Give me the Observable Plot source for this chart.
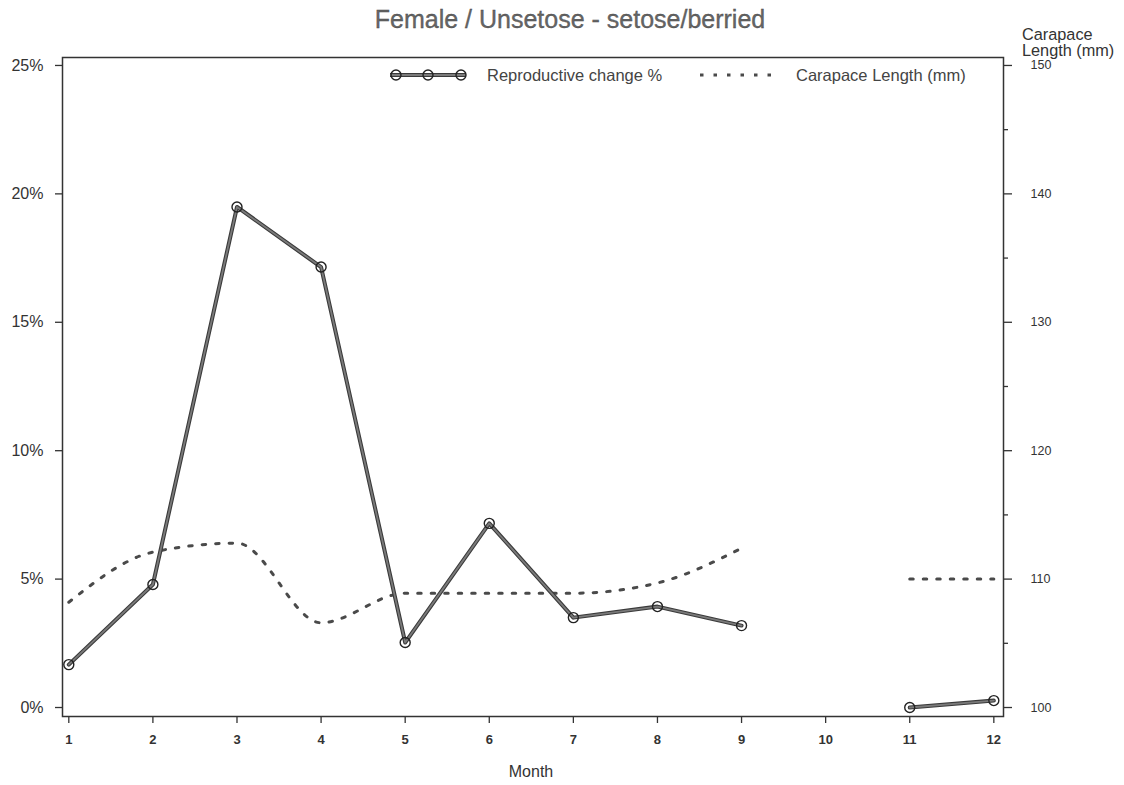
<!DOCTYPE html>
<html>
<head>
<meta charset="utf-8">
<script src="https://cdn.jsdelivr.net/npm/d3@7"></script>
<script src="https://cdn.jsdelivr.net/npm/@observablehq/plot@0.6"></script>
<style>
  body { margin: 0; background: #fff; font-family: "Liberation Sans", Arial, sans-serif; }
  #wrap { position: relative; width: 1124px; height: 785px; }
  #chart { position: absolute; left: 0; top: 0; }
  #title { position: absolute; left: 8px; top: 7px; width: 1124px; text-align: center;
           font-size: 25px; line-height: 25px; color: #666; z-index: 2;
           -webkit-text-stroke: 0.3px #444; }
  #rtitle { position: absolute; left: 1022px; top: 26px; font-size: 16.3px; line-height: 16px;
            color: #333; z-index: 2; }
</style>
</head>
<body>
<div id="wrap">
  <div id="chart"></div>
  <div id="title">Female / Unsetose - setose/berried</div>
  <div id="rtitle">Carapace<br>Length (mm)</div>
</div>
<script>
// Monthly series (month 10 has no observation)
const months = [1, 2, 3, 4, 5, 6, 7, 8, 9, 10, 11, 12];
const reproductiveChangePct = [1.67, 4.79, 19.49, 17.15, 2.53, 7.17, 3.50, 3.93, 3.19, null, 0.0, 0.27];
const carapaceLengthMm = [108.2, 112.1, 112.8, 106.6, 108.9, 108.9, 108.9, 109.7, 112.4, null, 110.0, 110.0];

// Axis ticks
const pctTicks = [0, 5, 10, 15, 20, 25];
const mmTicks = [100, 110, 120, 130, 140, 150];
const mmMinorTicks = [105, 115, 125, 135, 145];

// Right axis (mm) shares the frame with the left axis (%): 100–150 mm ↔ 0–25 %
const mmToPct = mm => (mm - 100) / 2;

const rows = months.map((m, i) => ({
  month: m,
  pct: reproductiveChangePct[i],
  mm: carapaceLengthMm[i]
}));

const ink = "#333";
const dotted = "3.5,10";

const chart = Plot.plot({
  width: 1124,
  height: 785,
  marginLeft: 62,
  marginRight: 121,
  marginTop: 57,
  marginBottom: 69,
  style: { background: "transparent", fontFamily: "Liberation Sans, Arial, sans-serif", color: ink },
  x: { domain: [0.925, 12.115] },
  y: { domain: [-0.35, 25.31] },
  marks: [
    Plot.frame({ stroke: ink, strokeWidth: 1.5 }),
    Plot.axisY({ anchor: "left", ticks: pctTicks, tickFormat: d => d + "%", tickSize: 7, tickPadding: 12,
                 fontSize: 16, label: null, stroke: ink, strokeWidth: 1.3 }),
    Plot.axisY({ anchor: "right", ticks: mmTicks.map(mmToPct), tickFormat: d => String(100 + 2 * d),
                 tickSize: 8, tickPadding: 19, fontSize: 12.5, label: null, stroke: ink, strokeWidth: 1.3 }),
    Plot.axisY({ anchor: "right", ticks: mmMinorTicks.map(mmToPct), tickFormat: () => "",
                 tickSize: 4, label: null, stroke: ink, strokeWidth: 1.3 }),
    Plot.axisX({ ticks: months, tickFormat: d => String(d), tickSize: 7, tickPadding: 11,
                 fontSize: 13, fontWeight: "bold", label: null, stroke: ink, strokeWidth: 1.3 }),
    // Carapace length: smoothed dotted curve on the right-hand scale
    Plot.line(rows, { x: "month", y: d => d.mm == null ? NaN : mmToPct(d.mm), curve: "monotone-x",
                      stroke: "#4a4a4a", strokeWidth: 3, strokeDasharray: dotted }),
    // Reproductive change: outlined grey line with open circles
    Plot.line(rows, { x: "month", y: "pct", stroke: "#3a3a3a", strokeWidth: 4 }),
    Plot.line(rows, { x: "month", y: "pct", stroke: "#7a7a7a", strokeWidth: 1.8 }),
    Plot.dot(rows, { x: "month", y: "pct", r: 5, fill: "none", stroke: "#222", strokeWidth: 1.4 })
  ]
});

document.getElementById("chart").appendChild(chart);

// Legend and x-axis title
const svg = d3.select(chart);
const lg = svg.append("g").attr("font-family", "Liberation Sans, Arial, sans-serif")
  .attr("text-anchor", "start");
lg.append("line").attr("x1", 390).attr("x2", 466).attr("y1", 75).attr("y2", 75)
  .attr("stroke", "#3a3a3a").attr("stroke-width", 4);
lg.append("line").attr("x1", 390).attr("x2", 466).attr("y1", 75).attr("y2", 75)
  .attr("stroke", "#7a7a7a").attr("stroke-width", 1.8);
[396, 428, 461].forEach(cx => lg.append("circle").attr("cx", cx).attr("cy", 75).attr("r", 5)
  .attr("fill", "none").attr("stroke", "#222").attr("stroke-width", 1.4));
lg.append("text").attr("x", 487).attr("y", 81).attr("font-size", 16.5).attr("fill", "#444")
  .text("Reproductive change %");
lg.append("line").attr("x1", 700).attr("x2", 774).attr("y1", 75).attr("y2", 75)
  .attr("stroke", "#4a4a4a").attr("stroke-width", 3).attr("stroke-dasharray", dotted);
lg.append("text").attr("x", 796).attr("y", 81).attr("font-size", 16.5).attr("fill", "#444")
  .text("Carapace Length (mm)");
svg.append("text").attr("x", 531).attr("y", 777).attr("text-anchor", "middle")
  .attr("font-family", "Liberation Sans, Arial, sans-serif").attr("font-size", 16).attr("fill", ink)
  .text("Month");
</script>
</body>
</html>
